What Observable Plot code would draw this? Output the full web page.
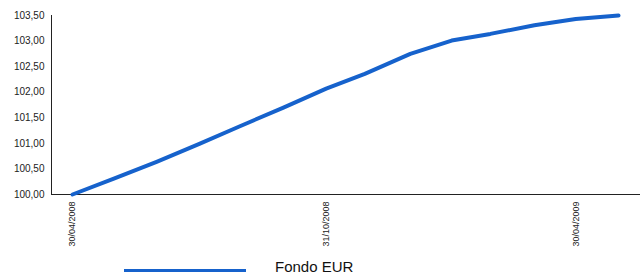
<!DOCTYPE html>
<html>
<head>
<meta charset="utf-8">
<script src="https://cdn.jsdelivr.net/npm/d3@7"></script>
<script src="https://cdn.jsdelivr.net/npm/@observablehq/plot@0.6"></script>
<style>
  html, body { margin: 0; padding: 0; background: #fff; }
  body { width: 644px; height: 275px; position: relative; overflow: hidden; font-family: "Liberation Sans", Arial, sans-serif; }
  #legend { position: absolute; left: 0; top: 255px; width: 644px; height: 20px; }
  #legend .swatch { position: absolute; left: 124px; top: 14px; width: 122px; height: 3px; background: #1662cc; }
  #legend .label { position: absolute; left: 275px; top: 3px; font-size: 15px; color: #111; line-height: 18px; }
</style>
</head>
<body>
<div id="chart"></div>
<div id="legend"><span class="swatch"></span><span class="label">Fondo EUR</span></div>
<script>
const dates = ["2008-04-30","2008-05-30","2008-06-30","2008-07-31","2008-08-29","2008-09-30","2008-10-31","2008-11-28","2008-12-31","2009-01-30","2009-02-27","2009-03-31","2009-04-30","2009-05-31"];
const values = [100.00,100.31,100.64,100.99,101.33,101.70,102.07,102.36,102.75,103.01,103.14,103.31,103.43,103.50];
const xTickDates = ["2008-04-30","2008-10-31","2009-04-30"];
const yTicks = [100,100.5,101,101.5,102,102.5,103,103.5];
const seriesName = "Fondo EUR";

const data = dates.map((d, i) => ({date: new Date(d), value: values[i], series: seriesName}));
const fmtY = v => v.toFixed(2).replace(".", ",");
const fmtX = d3.utcFormat("%d/%m/%Y");

const chart = Plot.plot({
  width: 644,
  height: 255,
  marginLeft: 51,
  marginRight: 5,
  marginTop: 15,
  marginBottom: 61,
  style: {fontFamily: "'Liberation Sans', Arial, sans-serif", color: "#222", background: "#fff"},
  x: {type: "utc", domain: [new Date(dates[0]), new Date(dates[dates.length - 1])], insetLeft: 21, insetRight: 21},
  y: {domain: [yTicks[0], yTicks[yTicks.length - 1]]},
  marks: [
    Plot.axisY({ticks: yTicks, tickFormat: fmtY, tickSize: 0, tickPadding: 7, fontSize: 10, label: null}),
    Plot.axisX({ticks: xTickDates.map(d => new Date(d)), tickFormat: fmtX, tickRotate: -90, tickSize: 0, tickPadding: 7, fontSize: 9, label: null}),
    Plot.frame({anchor: "left", stroke: "#222"}),
    Plot.frame({anchor: "bottom", stroke: "#222"}),
    Plot.lineY(data, {x: "date", y: "value", stroke: "#1662cc", strokeWidth: 4, strokeLinecap: "round", strokeLinejoin: "round"})
  ]
});
document.getElementById("chart").appendChild(chart);
</script>
</body>
</html>
